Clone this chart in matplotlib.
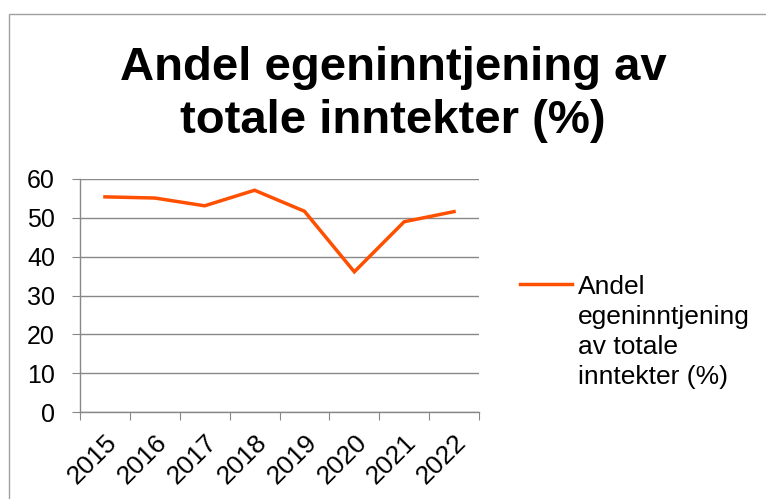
import matplotlib
matplotlib.use("Agg")
import matplotlib.pyplot as plt
from matplotlib.lines import Line2D
from matplotlib.patches import Rectangle

plt.rcParams['font.family'] = ['Liberation Sans', 'DejaVu Sans']

years = ["2015", "2016", "2017", "2018", "2019", "2020", "2021", "2022"]
andel = [55.4, 55.1, 53.1, 57.1, 51.7, 36.1, 49.0, 51.6]
title_lines = ["Andel egeninntjening av", "totale inntekter (%)"]
series_label = "Andel\negeninntjening\nav totale\ninntekter (%)"

W, H = 766, 499
fig = plt.figure(figsize=(W / 100, H / 100), dpi=100)

# ramme rundt diagrammet (går ut over kanten til høyre/nede)
fig.add_artist(Rectangle((8.5 / W, -0.1), 1.2, (H - 14) / H + 0.1, transform=fig.transFigure,
                         fill=False, edgecolor="#a0a0a0", linewidth=1))

ax = fig.add_axes([80 / W, 1 - 412 / H, 399 / W, 233 / H])
x = list(range(len(years)))
line_color = "#ff5000"
ax.plot(x, andel, color=line_color, linewidth=2.5, solid_joinstyle="miter")

ax.set_xlim(-0.5, len(years) - 0.5)
ax.set_ylim(0, 60)
ax.set_yticks(range(0, 61, 10))
ax.set_xticks([i - 0.5 for i in range(len(years) + 1)], minor=False)
ax.set_xticklabels([])
ax.set_xticks(x, minor=True)
ax.set_xticklabels(years, minor=True, rotation=45, ha="right", rotation_mode="anchor")
ax.tick_params(axis="x", which="minor", length=0, pad=13, labelsize=19)
ax.tick_params(axis="x", which="major", length=6, color="#888888", direction="out")
ax.tick_params(axis="y", length=6, color="#888888", labelsize=18, pad=12)

ax.grid(axis="y", color="#888888", linewidth=1)
ax.set_axisbelow(True)
for s in ["top", "right"]:
    ax.spines[s].set_visible(False)
for s in ["left", "bottom"]:
    ax.spines[s].set_color("#888888")
    ax.spines[s].set_linewidth(1)

# tittel, to linjer
fig.text(393 / W, 1 - 80 / H, title_lines[0], ha="center", va="baseline", fontsize=34,
         fontweight="bold")
fig.text(393 / W, 1 - 133 / H, title_lines[1], ha="center", va="baseline", fontsize=34,
         fontweight="bold")

# forklaring
fig.add_artist(Line2D([520 / W, 572 / W], [1 - 284 / H, 1 - 284 / H], transform=fig.transFigure,
                      color=line_color, linewidth=2.5))
fig.text(578 / W, 1 - 275 / H, series_label, ha="left", va="top", fontsize=19, linespacing=1.32)

fig.savefig("out.png", dpi=100)
